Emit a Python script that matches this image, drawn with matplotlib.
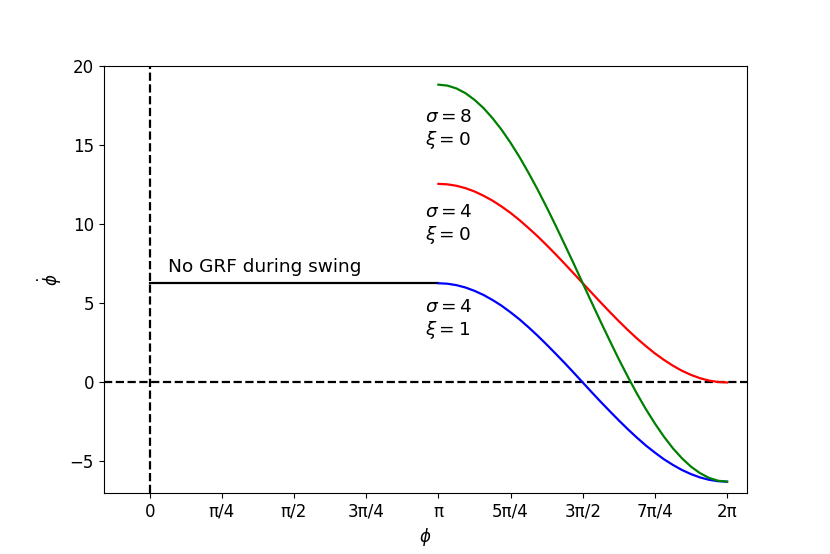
import numpy as np
import matplotlib
matplotlib.use("Agg")
import matplotlib.pyplot as plt

plt.rcParams['font.size'] = 12

# phase samples (in units of pi) from pi to 2pi, step 1/32
phase_pi = [1.0, 1.03125, 1.0625, 1.09375, 1.125, 1.15625, 1.1875, 1.21875,
            1.25, 1.28125, 1.3125, 1.34375, 1.375, 1.40625, 1.4375, 1.46875,
            1.5, 1.53125, 1.5625, 1.59375, 1.625, 1.65625, 1.6875, 1.71875,
            1.75, 1.78125, 1.8125, 1.84375, 1.875, 1.90625, 1.9375, 1.96875, 2.0]

blue_sig4_xi1 = [6.28, 6.25, 6.16, 6.01, 5.80, 5.54, 5.22, 4.86, 4.44, 3.99,
                 3.49, 2.96, 2.40, 1.82, 1.23, 0.62, 0.00, -0.62, -1.23, -1.82,
                 -2.40, -2.96, -3.49, -3.99, -4.44, -4.86, -5.22, -5.54, -5.80,
                 -6.01, -6.16, -6.25, -6.28]
red_sig4_xi0 = [12.57, 12.54, 12.45, 12.30, 12.09, 11.82, 11.51, 11.14, 10.73,
                10.27, 9.77, 9.25, 8.69, 8.11, 7.51, 6.90, 6.28, 5.67, 5.06,
                4.46, 3.88, 3.32, 2.79, 2.30, 1.84, 1.43, 1.06, 0.74, 0.48,
                0.27, 0.12, 0.03, 0.00]
green_sig8_xi0 = [18.85, 18.79, 18.61, 18.31, 17.89, 17.37, 16.73, 16.00, 15.17,
                  14.26, 13.26, 12.21, 11.09, 9.93, 8.73, 7.52, 6.28, 5.05, 3.83,
                  2.64, 1.47, 0.36, -0.70, -1.69, -2.60, -3.43, -4.17, -4.80,
                  -5.33, -5.74, -6.04, -6.22, -6.28]

swing_x_pi = [0.0, 1.0]
swing_y = [6.28, 6.28]

tick_pi = [0, 0.25, 0.5, 0.75, 1.0, 1.25, 1.5, 1.75, 2.0]
tick_labels = ["0", "π/4", "π/2", "3π/4", "π", "5π/4", "3π/2", "7π/4", "2π"]

labels = [("$\\sigma = 8$\n$\\xi = 0$", 15),
          ("$\\sigma = 4$\n$\\xi = 0$", 9),
          ("$\\sigma = 4$\n$\\xi = 1$", 3)]

fig, ax = plt.subplots(figsize=(8.3, 5.54), dpi=100)

x = np.array(phase_pi) * np.pi
ax.axvline(0, color='black', linestyle='--', linewidth=1.6)
ax.axhline(0, color='black', linestyle='--', linewidth=1.6)
ax.plot(np.array(swing_x_pi) * np.pi, swing_y, color='black', linewidth=1.6)
ax.plot(x, blue_sig4_xi1, color='blue', linewidth=1.6)
ax.plot(x, red_sig4_xi0, color='red', linewidth=1.6)
ax.plot(x, green_sig8_xi0, color='green', linewidth=1.6)

ax.text(0.2, 7, "No GRF during swing", fontsize=13.3)
for txt, yy in labels:
    ax.text(3.0, yy, txt, fontsize=13.3)

ax.set_xticks(np.array(tick_pi) * np.pi)
ax.set_xticklabels(tick_labels)
ax.set_xlim(-0.5, 6.5)
ax.set_ylim(-7, 20)
ax.set_yticks([-5, 0, 5, 10, 15, 20])
ax.set_xlabel("$\\phi$")
ax.set_ylabel("$\\dot{\\phi}$")

fig.savefig("out.png", dpi=100)
